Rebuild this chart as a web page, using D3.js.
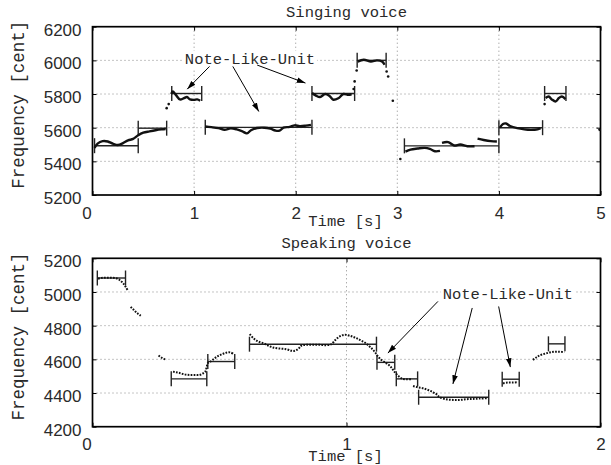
<!DOCTYPE html>
<html lang="en">
<head>
<meta charset="UTF-8">
<title>Singing and speaking voice</title>
<script src="https://cdn.jsdelivr.net/npm/d3@7"></script>
<style>
  body { margin: 0; background: white; }
  svg { display: block; font-family: "Liberation Mono", "DejaVu Sans Mono", monospace; }
  text { fill: #2a2a2a; }
  .grid line { stroke: #8a8a8a; stroke-width: 1; stroke-dasharray: 1,3; }
  .axis path { display: none; }
  .axis line { stroke: #000; stroke-width: 1; }
  .axis text { font-size: 17px; }
  .frame { fill: none; stroke: #000; stroke-width: 1.7; }
  .note line { stroke: #222; stroke-width: 1.4; }
  .arrow { stroke: #000; stroke-width: 1; }
</style>
</head>
<body>
<svg id="chart" width="611" height="465"></svg>
<script>
// ---- data (time in s, frequency in cent) ----
const singTicksX = [0, 1, 2, 3, 4, 5];
const singTicksY = [5200, 5400, 5600, 5800, 6000, 6200];
const speakTicksX = [0, 1, 2];
const speakTicksY = [4200, 4400, 4600, 4800, 5000, 5200];

// F0 contour of the singing voice, one array per voiced stretch
const singContour = [
  [[0.02,5480],[0.05,5505],[0.1,5520],[0.15,5518],[0.2,5505],[0.25,5497],[0.3,5508],[0.35,5525],
   [0.4,5533],[0.45,5555],[0.5,5570],[0.56,5578],[0.62,5585],[0.68,5590],[0.72,5592]],
  [[0.73,5716]],
  [[0.75,5740]],
  [[0.775,5800],[0.79,5815],[0.82,5795],[0.86,5768],[0.9,5775],[0.93,5782],
   [0.96,5768],[1.0,5765],[1.03,5768],[1.06,5760]],
  [[1.11,5607],[1.17,5603],[1.24,5597],[1.3,5588],[1.36,5596],[1.42,5590],[1.47,5580],[1.52,5566],
   [1.56,5585],[1.62,5598],[1.69,5600],[1.75,5594],[1.8,5583],[1.84,5582],[1.88,5600],[1.94,5605],
   [1.99,5614],[2.04,5609],[2.1,5612],[2.15,5617]],
  [[2.16,5806],[2.2,5790],[2.24,5782],[2.29,5800],[2.33,5790],[2.37,5766],[2.42,5775],[2.47,5800],
   [2.52,5795],[2.55,5800]],
  [[2.57,5830]],
  [[2.58,5875]],
  [[2.6,5940]],
  [[2.61,5993],[2.67,6004],[2.74,5993],[2.8,6000],[2.85,5993],[2.875,5974]],
  [[2.895,5934]],
  [[2.91,5904]],
  [[2.956,5760]],
  [[3.03,5414]],
  [[3.08,5458],[3.13,5470],[3.2,5476],[3.27,5480],[3.32,5474],[3.37,5460],[3.42,5462]],
  [[3.44,5510],[3.5,5514],[3.56,5494],[3.62,5500],[3.69,5490],[3.76,5490]],
  [[3.79,5535],[3.85,5527],[3.92,5520],[3.98,5518]],
  [[4.01,5600],[4.04,5622],[4.07,5625],[4.11,5610],[4.18,5597],[4.25,5590],[4.31,5587],[4.38,5590],[4.41,5597]],
  [[4.45,5740]],
  [[4.46,5776],[4.49,5785],[4.52,5768],[4.56,5756],[4.59,5776],[4.62,5785],[4.655,5770]],
  [[4.98,5585],[5.0,5590]]
];
// note-like units: [start, end, cent]
const singNotes = [
  [0.02,0.45,5493],[0.45,0.73,5597],[0.78,1.075,5803],[1.11,2.16,5602],[2.16,2.58,5803],
  [2.605,2.89,6000],[3.07,4.0,5492],[4.0,4.43,5600],[4.45,4.66,5803]
];
// annotation arrows: [t0, f0, t1, f1]
const singArrows = [[1.152,5964,0.932,5829],[1.381,5964,1.637,5696],[1.621,5972,2.096,5865]];
const singLabelAt = [1.55, 6002];

const speakContour = [
  [[0.022,5079],[0.035,5083],[0.048,5085],[0.061,5085],[0.074,5085],[0.087,5083],[0.098,5079],
   [0.107,5071],[0.113,5063],[0.12,5053],[0.127,5039],[0.133,5024],[0.14,5008]],
  [[0.15,4911],[0.159,4899],[0.168,4885],[0.179,4871],[0.19,4859]],
  [[0.26,4623],[0.271,4611],[0.281,4603],[0.292,4599]],
  [[0.317,4527],[0.33,4523],[0.343,4519],[0.356,4513],[0.369,4509],[0.382,4507],[0.395,4507],
   [0.408,4507],[0.421,4507],[0.435,4517],[0.444,4527],[0.45,4557],[0.454,4577],[0.465,4587],
   [0.478,4603],[0.491,4617],[0.504,4627],[0.517,4635],[0.53,4641],[0.543,4641],[0.556,4631]],
  [[0.619,4750],[0.633,4726],[0.652,4706],[0.672,4696],[0.691,4682],[0.711,4670],[0.737,4664],
   [0.764,4660],[0.783,4651],[0.796,4651],[0.81,4662],[0.823,4682],[0.842,4686],[0.868,4686],
   [0.895,4686],[0.921,4684],[0.941,4690],[0.954,4712],[0.973,4736],[0.993,4746],[1.013,4740],
   [1.032,4730],[1.052,4716],[1.072,4700],[1.091,4676],[1.104,4657],[1.115,4637],[1.124,4617],
   [1.137,4597],[1.15,4583],[1.163,4571],[1.177,4551],[1.186,4532],[1.196,4514],[1.207,4498],
   [1.22,4484],[1.236,4482],[1.258,4482]],
  [[1.262,4442],[1.281,4434],[1.301,4428],[1.321,4418],[1.34,4405],[1.355,4392],[1.367,4375],
   [1.393,4363],[1.419,4359],[1.445,4359],[1.472,4363],[1.498,4365],[1.524,4367],[1.557,4369]],
  [[1.616,4458],[1.635,4462],[1.655,4462],[1.675,4464]],
  [[1.734,4597],[1.747,4611],[1.76,4623],[1.78,4633],[1.8,4641],[1.819,4645],[1.839,4645],[1.858,4643]]
];
const speakNotes = [
  [0.019,0.13,5083],[0.31,0.45,4484],[0.454,0.56,4587],[0.618,1.118,4690],[1.12,1.19,4582],
  [1.196,1.28,4484],[1.284,1.56,4375],[1.613,1.68,4482],[1.795,1.86,4692]
];
const speakArrows = [[1.36,4944,1.163,4637],[1.495,4905,1.419,4454],[1.599,4914,1.645,4554]];
const speakLabelAt = [1.635, 4980];

const noteLabel = "Note-Like-Unit";

// ---- drawing ----
const svg = d3.select('#chart');
svg.append('rect').attr('width', 611).attr('height', 465).attr('fill', 'white');

svg.append('defs').append('marker')
    .attr('id', 'head')
    .attr('markerUnits', 'userSpaceOnUse')
    .attr('viewBox', '0 -4 10 8')
    .attr('refX', 10).attr('refY', 0)
    .attr('markerWidth', 9).attr('markerHeight', 7)
    .attr('orient', 'auto')
  .append('path')
    .attr('d', 'M0,-3.2L10,0L0,3.2Z')
    .attr('fill', '#000');

function panel(p) {
  const g = svg.append('g');
  const x = d3.scaleLinear().domain(p.xDomain).range([92.5, 600.5]);
  const y = d3.scaleLinear().domain(p.yDomain).range([p.bottom, p.top]);
  const [x0, x1] = x.range();

  // dotted grid on inner ticks
  const grid = g.append('g').attr('class', 'grid');
  grid.selectAll('.h').data(p.ticksY.slice(1, -1)).join('line')
      .attr('x1', x0).attr('x2', x1).attr('y1', d => y(d)).attr('y2', d => y(d));
  grid.selectAll('.v').data(p.ticksX.slice(1, -1)).join('line')
      .attr('y1', p.top).attr('y2', p.bottom).attr('x1', d => x(d)).attr('x2', d => x(d));

  // axes with inward ticks on all four sides
  const left = g.append('g').attr('class', 'axis').attr('transform', `translate(${x0},0)`)
      .call(d3.axisLeft(y).tickValues(p.ticksY).tickSize(-4).tickPadding(11).tickFormat(d3.format('d')));
  left.selectAll('text').attr('y', 3);
  g.append('g').attr('class', 'axis').attr('transform', `translate(${x1},0)`)
      .call(d3.axisRight(y).tickValues(p.ticksY).tickSize(-4).tickFormat(''));
  const bottom = g.append('g').attr('class', 'axis').attr('transform', `translate(0,${p.bottom})`)
      .call(d3.axisBottom(x).tickValues(p.ticksX).tickSize(-4).tickFormat(d3.format('d')));
  bottom.selectAll('text').attr('dy', null).attr('y', 23.5)
      .attr('dx', (d, i) => i === 0 ? -6 : 0);
  g.append('g').attr('class', 'axis').attr('transform', `translate(0,${p.top})`)
      .call(d3.axisTop(x).tickValues(p.ticksX).tickSize(-4).tickFormat(''));

  g.append('rect').attr('class', 'frame')
      .attr('x', x0).attr('y', p.top).attr('width', x1 - x0).attr('height', p.bottom - p.top);

  // note-like units: bar with end ticks
  const notes = g.append('g').attr('class', 'note');
  p.notes.forEach(([s, e, f]) => {
    notes.append('line').attr('x1', x(s)).attr('x2', x(e)).attr('y1', y(f)).attr('y2', y(f));
    [s, e].forEach(t => notes.append('line')
        .attr('x1', x(t)).attr('x2', x(t)).attr('y1', y(f) - 7.5).attr('y2', y(f) + 7.5));
  });

  // F0 contour
  const line = d3.line().x(d => x(d[0])).y(d => y(d[1])).curve(d3.curveCatmullRom);
  const cg = g.append('g');
  p.contour.forEach(seg => {
    if (seg.length > 1) {
      cg.append('path').attr('d', line(seg)).attr('fill', 'none')
        .attr('stroke', '#111').attr('stroke-width', p.solid ? 2.4 : 2)
        .attr('stroke-dasharray', p.solid ? null : '1.7,1.3');
    } else {
      cg.append('circle').attr('cx', x(seg[0][0])).attr('cy', y(seg[0][1]))
        .attr('r', 1.3).attr('fill', '#111');
    }
  });

  // annotation: label with white box, then arrows
  const lab = g.append('text')
      .attr('x', x(p.labelAt[0])).attr('y', y(p.labelAt[1]))
      .attr('text-anchor', 'middle').attr('dominant-baseline', 'central')
      .style('font-size', '15.5px').text(noteLabel);
  const bb = lab.node().getBBox();
  g.insert('rect', () => lab.node())
      .attr('x', bb.x - 2).attr('y', bb.y).attr('width', bb.width + 4).attr('height', bb.height)
      .attr('fill', 'white');
  g.selectAll('.arrow').data(p.arrows).join('line').attr('class', 'arrow')
      .attr('x1', d => x(d[0])).attr('y1', d => y(d[1]))
      .attr('x2', d => x(d[2])).attr('y2', d => y(d[3]))
      .attr('marker-end', 'url(#head)');

  // titles and axis labels
  const mid = (x0 + x1) / 2;
  g.append('text').attr('x', mid).attr('y', p.top - 10).attr('text-anchor', 'middle')
      .style('font-size', '15.5px').text(p.title);
  g.append('text').attr('x', mid - 1).attr('y', p.bottom + p.xlabGap).attr('text-anchor', 'middle')
      .style('font-size', '15.5px').text('Time [s]');
  g.append('text').attr('transform', `translate(24,${(p.top + p.bottom) / 2 - 6}) rotate(-90)`)
      .attr('text-anchor', 'middle').style('font-size', '17.5px').text('Frequency [cent]');
}

panel({
  title: 'Singing voice', top: 26.7, bottom: 195, xlabGap: 31,
  xDomain: [0, 5], yDomain: [5200, 6200], ticksX: singTicksX, ticksY: singTicksY,
  contour: singContour, notes: singNotes, arrows: singArrows, labelAt: singLabelAt, solid: true
});
panel({
  title: 'Speaking voice', top: 258.3, bottom: 426.7, xlabGap: 34,
  xDomain: [0, 2], yDomain: [4200, 5200], ticksX: speakTicksX, ticksY: speakTicksY,
  contour: speakContour, notes: speakNotes, arrows: speakArrows, labelAt: speakLabelAt, solid: false
});
</script>
</body>
</html>
